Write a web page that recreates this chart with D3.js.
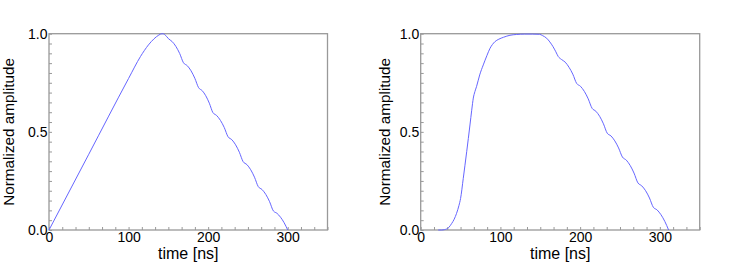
<!DOCTYPE html>
<html>
<head>
<meta charset="utf-8">
<script src="https://cdn.jsdelivr.net/npm/d3@7"></script>
<style>
  html, body { margin: 0; padding: 0; background: #fff; }
  svg { display: block; }
  text { font-family: "Liberation Sans", Arial, sans-serif; fill: #000; }
</style>
</head>
<body>
<svg id="chart" width="747" height="265"></svg>
<script>
// ---- data ----
const xMajorTicks = [0, 100, 200, 300];
const yMajorTicks = [0, 0.5, 1.0];
const yTickLabels = ["0.0", "0.5", "1.0"];
const xTitle = "time [ns]";
const yTitle = "Normalized amplitude";

// left panel: triangular pulse (time ns, normalized amplitude)
const leftTime = [0, 50, 100, 115, 125, 132, 138, 142, 144, 146, 148, 150,
  154.75, 159.5, 164.25, 169,
  173.75, 178.5, 183.25, 188,
  192.5, 197, 201.5, 206,
  210.75, 215.5, 220.25, 225,
  229.75, 234.5, 239.25, 244,
  248.75, 253.5, 258.25, 263,
  267.75, 272.5, 277.25, 282,
  286.5, 291, 295.5, 300];
const leftAmp = [0, 0.386, 0.772, 0.884, 0.943, 0.974, 0.993, 1.0, 0.999, 0.993, 0.985, 0.975,
  0.960, 0.935, 0.899, 0.852,
  0.837, 0.811, 0.773, 0.725,
  0.710, 0.684, 0.646, 0.598,
  0.583, 0.558, 0.522, 0.475,
  0.460, 0.434, 0.396, 0.348,
  0.333, 0.307, 0.269, 0.221,
  0.206, 0.181, 0.144, 0.097,
  0.085, 0.065, 0.037, 0.0];

// right panel: smooth-rise pulse
const rightTime = [22, 26, 30, 35, 39, 42, 45, 48, 50, 53.4, 57.7, 61.8, 64, 66, 68, 70,
  74, 78.5, 83, 87, 90, 93, 98, 104, 112, 120, 130, 140, 149, 153, 158, 162, 166,
  169.5, 172.5, 176.5,
  181.3, 186.05, 190.8, 195.6,
  200.45, 205.3, 210.15, 215,
  219.75, 224.5, 229.25, 234,
  238.75, 243.5, 248.25, 253,
  257.9, 262.75, 267.6, 272.5,
  277.3, 282.15, 287, 291.8,
  296.6, 301.4, 306.2, 311];
const rightAmp = [0, 0, 0.002, 0.012, 0.034, 0.055, 0.085, 0.125, 0.16, 0.263, 0.399, 0.535, 0.61, 0.672, 0.705, 0.73,
  0.79, 0.841, 0.888, 0.926, 0.945, 0.959, 0.972, 0.982, 0.992, 0.996, 0.998, 0.998, 0.997, 0.99, 0.977, 0.958, 0.934,
  0.908, 0.884, 0.869,
  0.855, 0.829, 0.794, 0.747,
  0.732, 0.706, 0.668, 0.620,
  0.605, 0.579, 0.541, 0.493,
  0.479, 0.454, 0.418, 0.372,
  0.356, 0.329, 0.290, 0.240,
  0.225, 0.200, 0.163, 0.116,
  0.102, 0.078, 0.044, 0.0];

// ---- drawing ----
const svg = d3.select("#chart");
const lineColor = "#6666ff";
const frameColor = "#999";

function panel(x0, x1, y0, y1, times, amps, titleX) {
  const x = d3.scaleLinear().domain([0, 350]).range([x0, x1]);
  const y = d3.scaleLinear().domain([0, 1]).range([y1, y0]);
  const g = svg.append("g");

  // minor ticks (inside)
  const xMinor = d3.range(0, 350.001, 100 / 6);
  const yMinor = d3.range(0, 1.0001, 0.05);
  const gx = g.append("g").attr("transform", `translate(0,${y1})`)
    .call(d3.axisBottom(x).tickValues(xMinor).tickSize(-3).tickFormat(""));
  const gy = g.append("g").attr("transform", `translate(${x0},0)`)
    .call(d3.axisLeft(y).tickValues(yMinor).tickSize(-3).tickFormat(""));
  [gx, gy].forEach(a => {
    a.select(".domain").remove();
    a.selectAll("line").attr("stroke", frameColor).attr("stroke-width", 1);
  });

  // frame
  g.append("rect").attr("x", x0).attr("y", y0)
    .attr("width", x1 - x0).attr("height", y1 - y0)
    .attr("fill", "none").attr("stroke", frameColor).attr("stroke-width", 1.3);

  // tick labels
  const gxl = g.append("g").attr("transform", `translate(0,${y1})`)
    .call(d3.axisBottom(x).tickValues(xMajorTicks).tickSize(0).tickPadding(1).tickFormat(d3.format("d")));
  gxl.select(".domain").remove();
  gxl.selectAll("text").attr("font-size", "14px").attr("font-family", "Liberation Sans, Arial, sans-serif")
    .attr("fill", "#000").attr("dy", "0.71em").attr("y", 2);

  const gyl = g.append("g").attr("transform", `translate(${x0},0)`)
    .call(d3.axisLeft(y).tickValues(yMajorTicks).tickSize(0).tickPadding(1.5)
      .tickFormat((d, i) => yTickLabels[i]));
  gyl.select(".domain").remove();
  gyl.selectAll("text").attr("font-size", "14px").attr("font-family", "Liberation Sans, Arial, sans-serif")
    .attr("fill", "#000");

  // curve
  const line = d3.line().x((d, i) => x(times[i])).y((d, i) => y(amps[i])).curve(d3.curveMonotoneX);
  g.append("path").datum(times).attr("d", line)
    .attr("fill", "none").attr("stroke", lineColor).attr("stroke-width", 1);

  // titles
  g.append("text").attr("x", (x0 + x1) / 2).attr("y", 258.5)
    .attr("text-anchor", "middle").attr("font-size", "16px").text(xTitle);
  g.append("text").attr("transform", `translate(${titleX},${(y0 + y1) / 2}) rotate(-90)`)
    .attr("text-anchor", "middle").attr("font-size", "15.3px").text(yTitle);
}

panel(49, 327.5, 33.7, 230, leftTime, leftAmp, 14);
panel(420.7, 699.7, 33.7, 230, rightTime, rightAmp, 389.5);
</script>
</body>
</html>
